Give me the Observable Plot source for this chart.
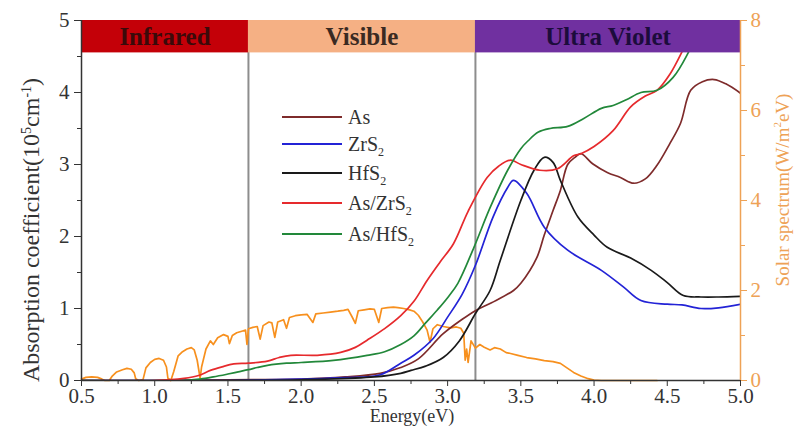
<!DOCTYPE html>
<html><head><meta charset="utf-8">
<script src="https://cdn.jsdelivr.net/npm/d3@7"></script>
<script src="https://cdn.jsdelivr.net/npm/@observablehq/plot@0.6"></script>
<style>body{margin:0;background:#fff;} #chart{width:798px;height:429px;}
#chart svg text, #chart svg tspan { font-family: "Liberation Serif", "Times New Roman", serif !important; }</style>
</head><body><div id="chart"></div>
<script>
// ---- data ----
const seriesNames = ["As", "ZrS2", "HfS2", "As/ZrS2", "As/HfS2"];
const seriesColors = ["#7e2b2b", "#2323d6", "#1a1a1a", "#e62a2d", "#22883a"];

const asE = [0.5, 1.0, 1.5, 2.0, 2.3, 2.54, 2.68, 2.8, 2.97, 3.1, 3.19, 3.3, 3.45, 3.5, 3.61, 3.66, 3.72, 3.77, 3.82, 3.87, 3.91, 3.99, 4.09, 4.18, 4.27, 4.35, 4.43, 4.52, 4.59, 4.66, 4.74, 4.82, 4.9, 5.0];
const asA = [0, 0, 0.01, 0.02, 0.05, 0.1, 0.18, 0.3, 0.65, 0.85, 0.97, 1.08, 1.25, 1.35, 1.71, 2.02, 2.36, 2.64, 3.0, 3.1, 3.15, 3.01, 2.89, 2.82, 2.74, 2.8, 2.99, 3.3, 3.57, 4.03, 4.15, 4.18, 4.12, 3.99];

const zrE = [0.5, 1.5, 2.0, 2.3, 2.54, 2.68, 2.77, 2.9, 3.0, 3.1, 3.19, 3.31, 3.41, 3.45, 3.54, 3.66, 3.82, 4.05, 4.2, 4.32, 4.5, 4.6, 4.73, 4.85, 5.0];
const zrA = [0, 0, 0.02, 0.04, 0.08, 0.24, 0.35, 0.58, 0.88, 1.2, 1.6, 2.27, 2.68, 2.78, 2.6, 2.13, 1.81, 1.53, 1.3, 1.11, 1.06, 1.05, 1.0, 1.01, 1.06];

const hfE = [0.5, 1.5, 2.0, 2.5, 2.68, 2.75, 2.85, 2.97, 3.08, 3.19, 3.29, 3.36, 3.5, 3.59, 3.66, 3.72, 3.77, 3.89, 4.0, 4.09, 4.25, 4.39, 4.5, 4.61, 4.73, 4.85, 5.0];
const hfA = [0, 0, 0.01, 0.05, 0.1, 0.14, 0.2, 0.32, 0.55, 0.93, 1.25, 1.67, 2.5, 2.92, 3.1, 3.03, 2.78, 2.27, 2.02, 1.85, 1.7, 1.53, 1.36, 1.18, 1.16, 1.16, 1.17];

const asZrE = [0.5, 1.0, 1.2, 1.3, 1.38, 1.46, 1.54, 1.64, 1.77, 1.85, 1.93, 2.11, 2.27, 2.37, 2.45, 2.57, 2.68, 2.77, 2.86, 2.95, 3.04, 3.14, 3.27, 3.35, 3.43, 3.5, 3.63, 3.75, 3.86, 3.91, 4.0, 4.13, 4.25, 4.35, 4.43, 4.52, 4.64, 4.72];
const asZrA = [0, 0, 0.03, 0.07, 0.14, 0.19, 0.23, 0.24, 0.27, 0.32, 0.35, 0.35, 0.39, 0.46, 0.56, 0.72, 0.9, 1.1, 1.39, 1.65, 1.9, 2.35, 2.82, 2.98, 3.06, 3.0, 2.92, 2.94, 3.12, 3.15, 3.25, 3.47, 3.8, 3.95, 4.03, 4.26, 4.72, 5.0];

const asHfE = [0.5, 1.2, 1.31, 1.4, 1.5, 1.57, 1.64, 1.7, 1.77, 1.9, 2.0, 2.22, 2.45, 2.57, 2.68, 2.77, 2.85, 2.93, 3.0, 3.07, 3.18, 3.29, 3.41, 3.5, 3.55, 3.62, 3.7, 3.82, 3.93, 4.05, 4.13, 4.22, 4.32, 4.43, 4.54, 4.64, 4.72];
const asHfA = [0, 0, 0.02, 0.05, 0.09, 0.12, 0.15, 0.18, 0.21, 0.24, 0.25, 0.28, 0.35, 0.4, 0.5, 0.62, 0.8, 0.98, 1.15, 1.35, 1.85, 2.4, 2.92, 3.22, 3.33, 3.45, 3.5, 3.53, 3.64, 3.78, 3.82, 3.9, 4.0, 4.03, 4.21, 4.54, 4.9];

const solarE = [0.50, 0.53, 0.57, 0.61, 0.64, 0.66, 0.69, 0.71, 0.74, 0.78, 0.81, 0.84, 0.86, 0.87, 0.89, 0.92, 0.94, 0.97, 1.00, 1.03, 1.06, 1.08, 1.09, 1.11, 1.13, 1.16, 1.19, 1.22, 1.25, 1.27, 1.29, 1.31, 1.32, 1.35, 1.38, 1.40, 1.43, 1.47, 1.50, 1.51, 1.53, 1.56, 1.60, 1.62, 1.63, 1.64, 1.67, 1.70, 1.72, 1.74, 1.78, 1.80, 1.82, 1.84, 1.88, 1.90, 1.92, 1.96, 2.00, 2.04, 2.08, 2.10, 2.15, 2.20, 2.25, 2.29, 2.32, 2.35, 2.37, 2.39, 2.43, 2.47, 2.50, 2.53, 2.55, 2.59, 2.63, 2.66, 2.70, 2.74, 2.77, 2.80, 2.83, 2.86, 2.88, 2.90, 2.93, 2.97, 3.02, 3.06, 3.09, 3.11, 3.12, 3.13, 3.14, 3.16, 3.19, 3.22, 3.25, 3.29, 3.32, 3.36, 3.40, 3.43, 3.48, 3.54, 3.60, 3.66, 3.72, 3.77, 3.82, 3.86, 3.91, 3.96, 4.00, 4.05, 4.43];
const solarS = [0.03, 0.07, 0.08, 0.07, 0.03, 0.00, 0.00, 0.10, 0.19, 0.24, 0.27, 0.25, 0.17, 0.04, 0.00, 0.02, 0.28, 0.40, 0.47, 0.49, 0.45, 0.30, 0.05, 0.00, 0.20, 0.55, 0.64, 0.70, 0.73, 0.68, 0.45, 0.05, 0.30, 0.70, 0.88, 0.80, 0.95, 1.02, 0.98, 0.82, 1.00, 1.06, 1.10, 1.12, 0.80, 1.15, 1.18, 1.20, 0.92, 1.22, 1.30, 1.28, 0.96, 1.30, 1.35, 1.16, 1.40, 1.44, 1.46, 1.47, 1.29, 1.48, 1.50, 1.52, 1.54, 1.56, 1.58, 1.40, 1.27, 1.55, 1.57, 1.59, 1.58, 1.29, 1.60, 1.62, 1.63, 1.62, 1.60, 1.57, 1.54, 1.45, 1.30, 1.12, 0.85, 1.15, 1.24, 1.20, 1.17, 1.19, 1.16, 1.05, 0.45, 0.70, 0.40, 0.88, 0.72, 0.80, 0.74, 0.68, 0.73, 0.70, 0.62, 0.60, 0.56, 0.51, 0.48, 0.44, 0.42, 0.38, 0.27, 0.18, 0.10, 0.04, 0.01, 0.00, 0.00];
const solarColor = "#f7901e";

const bandNames = ["Infrared", "Visible", "Ultra Violet"];
const bandStart = [0.5, 1.64, 3.19];
const bandEnd = [1.64, 3.19, 5.0];
const bandColors = ["#c40008", "#f5b084", "#7030a0"];
const bandTextColors = ["#3a0a0a", "#3a2a22", "#1c0c3c"];

const xTicks = [0.5, 1.0, 1.5, 2.0, 2.5, 3.0, 3.5, 4.0, 4.5, 5.0];
const xMinorTicks = [0.75, 1.25, 1.75, 2.25, 2.75, 3.25, 3.75, 4.25, 4.75];
const yTicks = [0, 1, 2, 3, 4, 5];
const yMinorTicks = [0.5, 1.5, 2.5, 3.5, 4.5];
const solarTicks = [0, 2, 4, 6, 8];
const solarMinorTicks = [1, 3, 5, 7];
const absMax = 5, solarMax = 8;
const axisOrange = "#eea256";

// ---- build tables ----
const seriesE = [asE, zrE, hfE, asZrE, asHfE];
const seriesA = [asA, zrA, hfA, asZrA, asHfA];
const series = seriesNames.map((name, i) => ({
  name, color: seriesColors[i],
  rows: seriesE[i].map((e, j) => ({E: e, A: seriesA[i][j]}))
}));
const solarRows = solarE.map((e, j) => ({E: e, S: solarS[j]}));
const bands = bandNames.map((n, i) => ({name: n, x1: bandStart[i], x2: bandEnd[i], fill: bandColors[i], tc: bandTextColors[i]}));
const toLeft = s => s * absMax / solarMax;

const plot = Plot.plot({
  width: 798, height: 429,
  marginLeft: 81, marginRight: 58, marginTop: 20, marginBottom: 49,
  x: {domain: [0.5, 5]},
  y: {domain: [0, 5]},
  style: {fontFamily: "'Liberation Serif', serif", background: "white", color: "#333"},
  marks: [
    Plot.ruleX(bandStart.slice(1), {y1: 0, y2: 5, stroke: "#8d8d8d", strokeWidth: 2}),
    Plot.line(solarRows, {x: "E", y: d => toLeft(d.S), stroke: solarColor, strokeWidth: 1.7}),
    ...series.map(s => Plot.line(s.rows, {x: "E", y: "A", stroke: s.color, strokeWidth: 1.7, curve: "catmull-rom", clip: true})),
    Plot.rect(bands, {x1: "x1", x2: "x2", y1: 4.55, y2: 5, fill: "fill"}),
    ...bands.map(b => Plot.text([b], {x: d => (d.x1 + d.x2) / 2, y: 4.775, text: "name", fill: b.tc, fontSize: 25, fontWeight: "bold"})),
    Plot.ruleX([0.5], {y1: 0, y2: 5, stroke: "#333", strokeWidth: 1.5}),
    Plot.ruleY([0], {x1: 0.5, x2: 5, stroke: "#333", strokeWidth: 1.5}),
    Plot.ruleX([5], {y1: 0, y2: 5, stroke: axisOrange, strokeWidth: 1.5}),
    Plot.axisX({ticks: xTicks, tickFormat: d3.format(".1f"), tickSize: 6, tickPadding: 2, fontSize: 21, label: null, color: "#333"}),
    Plot.axisX({ticks: xMinorTicks, tickFormat: () => "", tickSize: 4, label: null, color: "#333"}),
    Plot.axisY({ticks: yTicks, tickFormat: d3.format("d"), tickSize: 7, tickPadding: 5, fontSize: 21, label: null, color: "#333"}),
    Plot.axisY({ticks: yMinorTicks, tickFormat: () => "", tickSize: 4, label: null, color: "#333"}),
    Plot.axisY({anchor: "right", ticks: solarTicks.map(toLeft), tickFormat: d => String(Math.round(d * solarMax / absMax)), tickSize: 6, tickPadding: 4, fontSize: 21, label: null, color: axisOrange}),
    Plot.axisY({anchor: "right", ticks: solarMinorTicks.map(toLeft), tickFormat: () => "", tickSize: 4, label: null, color: axisOrange})
  ]
});
document.getElementById("chart").appendChild(plot);

// ---- axis titles and legend (text with sub/superscripts) ----
const svg = d3.select(plot);
const font = "Liberation Serif";
function richText(g, parts, size) {
  let prev = "n";
  const shift = {n: 0, sup: -8, sub: 5};
  parts.forEach(([t, k]) => {
    const ts = g.append("tspan").text(t);
    const dy = shift[k] - shift[prev];
    if (dy) ts.attr("dy", dy);
    ts.attr("font-size", k === "n" ? size : Math.round(size * 0.6));
    prev = k;
  });
}
const leftLabel = svg.append("text").attr("transform", "translate(39,230) rotate(-90)")
  .attr("text-anchor", "middle").attr("font-family", font).attr("fill", "#333");
richText(leftLabel, [["Absorption coefficient(10", "n"], ["5", "sup"], ["cm", "n"], ["-1", "sup"], [")", "n"]], 24);

const rightLabel = svg.append("text").attr("transform", "translate(789,190) rotate(-90)")
  .attr("text-anchor", "middle").attr("font-family", font).attr("fill", axisOrange);
richText(rightLabel, [["Solar spectrum(W/m", "n"], ["2", "sup"], ["eV)", "n"]], 19);

svg.append("text").attr("x", 412).attr("y", 422).attr("text-anchor", "middle")
  .attr("font-family", font).attr("font-size", 18).attr("fill", "#333").text("Energy(eV)");

const legendLabels = [[["As", "n"]], [["ZrS", "n"], ["2", "sub"]], [["HfS", "n"], ["2", "sub"]], [["As/ZrS", "n"], ["2", "sub"]], [["As/HfS", "n"], ["2", "sub"]]];
const legendY = [117, 144, 173, 203, 234];
series.forEach((s, i) => {
  svg.append("line").attr("x1", 282).attr("x2", 342).attr("y1", legendY[i]).attr("y2", legendY[i])
    .attr("stroke", s.color).attr("stroke-width", 2);
  const t = svg.append("text").attr("x", 348).attr("y", legendY[i] + 7).attr("text-anchor", "start")
    .attr("font-family", font).attr("fill", "#333");
  richText(t, legendLabels[i], 20);
});
</script></body></html>
